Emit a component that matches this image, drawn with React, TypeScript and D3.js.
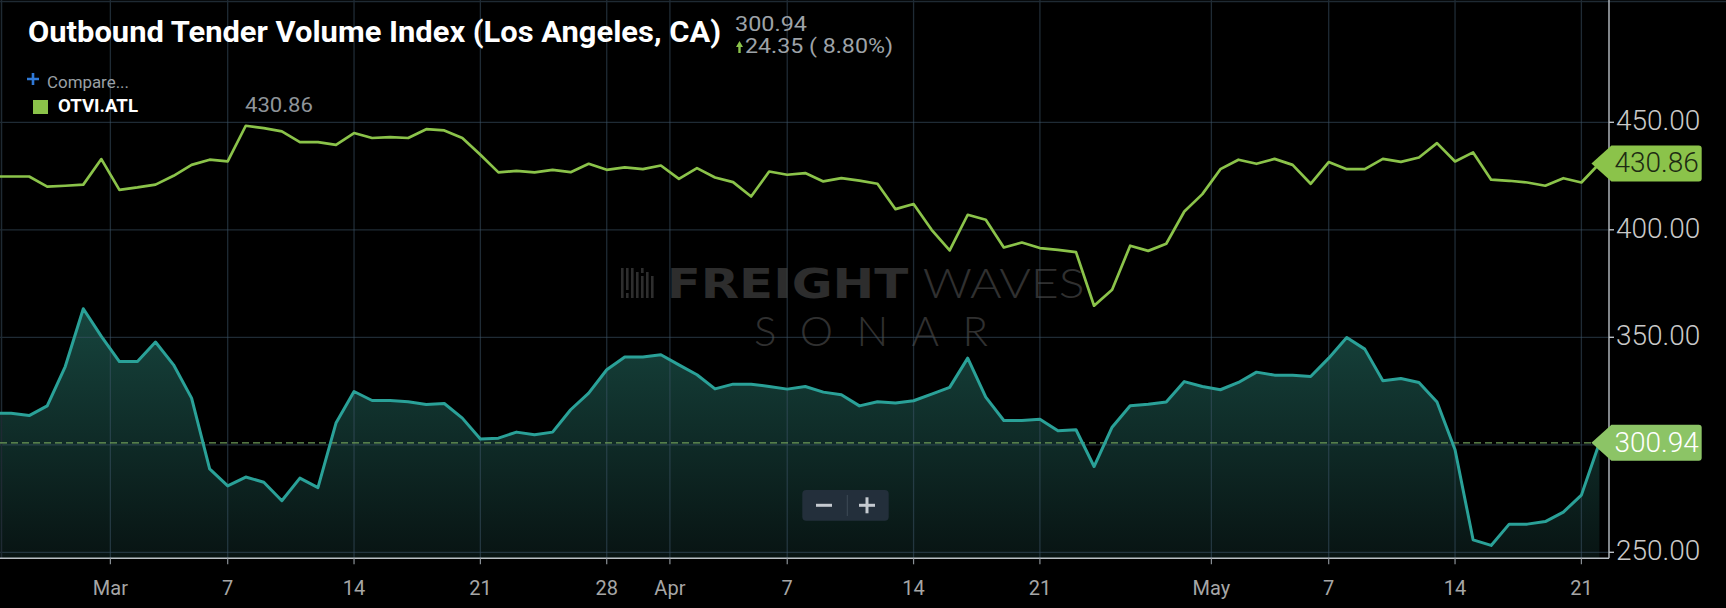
import React from "react";
import * as d3 from "d3";

// ---- data ----
const startDay = Date.UTC(2019, 1, 22); // Feb 22
const otviAtl = [
  424.8, 424.8, 424.8, 420.1, 420.5, 421.0, 432.9, 418.6, 419.7, 421.0,
  425.1, 430.2, 432.6, 431.8, 448.4, 447.3, 445.8, 440.8, 440.8, 439.5,
  445.0, 442.7, 443.1, 442.7, 446.8, 446.2, 442.7, 434.9, 426.7, 427.4,
  426.7, 427.9, 426.8, 430.7, 427.9, 429.0, 428.2, 429.9, 423.7, 428.7,
  424.3, 422.2, 415.5, 427.1, 425.6, 426.4, 422.5, 424.0, 422.9, 421.4,
  409.6, 412.0, 400.0, 390.4, 407.0, 404.7, 391.8, 394.1, 391.5, 390.7,
  389.6, 364.7, 372.1, 392.6, 390.2, 393.5, 408.5, 416.6, 428.2, 432.6,
  430.7, 433.0, 430.2, 421.4, 431.5, 428.2, 428.2, 433.0, 431.6, 433.6,
  440.3, 431.8, 436.0, 423.3, 422.8, 422.0, 420.5, 424.0, 422.0, 430.86,
];
const otviLax = [
  314.7, 314.7, 313.6, 318.1, 336.4, 363.3, 350.4, 338.7, 338.7, 347.8,
  337.2, 321.7, 288.8, 280.9, 285.0, 282.6, 274.0, 284.5, 280.1, 310.1,
  324.8, 320.6, 320.6, 320.0, 318.7, 319.2, 312.4, 302.7, 303.1, 305.9,
  304.7, 305.9, 316.3, 324.0, 334.9, 340.8, 340.8, 341.9, 337.2, 332.6,
  326.0, 328.2, 328.2, 327.1, 325.9, 327.1, 324.5, 323.3, 318.1, 320.0,
  319.4, 320.5, 323.6, 326.7, 340.3, 322.2, 311.3, 311.3, 311.9, 306.5,
  307.0, 289.9, 308.2, 318.2, 318.9, 319.9, 329.4, 327.1, 325.6, 329.0,
  333.8, 332.4, 332.3, 331.8, 340.3, 349.9, 344.5, 329.8, 330.8, 329.0,
  319.9, 297.7, 255.8, 253.2, 263.1, 263.1, 264.3, 268.7, 276.59, 300.94,
];
const xTickLabels = ["Mar", "7", "14", "21", "28", "Apr", "7", "14", "21", "May", "7", "14", "21"];
const xTickDates = [
  "2019-02-28T12:00Z", "2019-03-07T00:00Z", "2019-03-14T00:00Z", "2019-03-21T00:00Z",
  "2019-03-28T00:00Z", "2019-03-31T12:00Z", "2019-04-07T00:00Z", "2019-04-14T00:00Z",
  "2019-04-21T00:00Z", "2019-04-30T12:00Z", "2019-05-07T00:00Z", "2019-05-14T00:00Z",
  "2019-05-21T00:00Z",
];
const yTicks = [250, 300, 350, 400, 450];
const title = "Outbound Tender Volume Index (Los Angeles, CA)";
const lastLax = 300.94;
const changeText = "24.35 ( 8.80%)";
const compareSymbol = "OTVI.ATL";
const lastAtl = 430.86;

export default function App() {
  const W = 1726;
  const H = 608;
  const plotR = 1609;
  const plotB = 558.3;
  const dates = otviLax.map((_, i) => new Date(startDay + i * 86400000));
  const x = d3
    .scaleUtc()
    .domain([new Date(Date.UTC(2019, 1, 22, 9, 14)), new Date(Date.UTC(2019, 4, 22, 12, 43))])
    .range([0, plotR]);
  const y = d3.scaleLinear().domain([250, 450]).range([552.3, 122.3]);

  const line = d3
    .line<number>()
    .x((_, i) => x(dates[i]))
    .y((d) => y(d));
  const area = d3
    .area<number>()
    .x((_, i) => x(dates[i]))
    .y0(plotB)
    .y1((d) => y(d));

  const lastX = x(dates[dates.length - 1]);
  const yAtl = y(lastAtl);
  const yLax = y(lastLax);
  const tipX = lastX - 8;
  const boxL = tipX + 20;
  const boxR = 1701.7;
  const boxH = 36;
  const tagPath = (cy: number) =>
    `M${tipX},${cy} L${boxL},${cy - boxH / 2} L${boxR - 3},${cy - boxH / 2} Q${boxR},${cy - boxH / 2} ${boxR},${cy - boxH / 2 + 3} L${boxR},${cy + boxH / 2 - 3} Q${boxR},${cy + boxH / 2} ${boxR - 3},${cy + boxH / 2} L${boxL},${cy + boxH / 2} Z`;

  const gridColor = "rgba(62,86,106,0.5)";
  const logoBars = [
    [0, 0, 30], [5, 0, 22], [5, 25, 30], [10, 0, 30], [15, 4, 30], [20, 0, 5], [20, 8, 30], [25, 4, 30], [30, 8, 30],
  ];

  return (
    <svg
      width={W}
      height={H}
      style={{ position: "fixed", left: 0, top: 0, background: "#000" }}
      fontFamily="Roboto, 'Noto Sans', sans-serif"
    >
      <defs>
        <clipPath id="plotClip">
          <rect x={0} y={0} width={plotR} height={plotB} />
        </clipPath>
        <linearGradient id="tealFill" gradientUnits="userSpaceOnUse" x1={0} y1={300} x2={0} y2={plotB}>
          <stop offset="0" stopColor="#17463f" />
          <stop offset="1" stopColor="#081413" />
        </linearGradient>
      </defs>
      <rect x={0} y={0} width={W} height={H} fill="#000" />

      {/* watermark */}
      <g>
        {logoBars.map((b, i) => (
          <rect key={i} x={621 + b[0]} y={268 + b[1]} width={2.6} height={b[2] - b[1]} fill="#2e2e2e" />
        ))}
        <text x={666.7} y={297.7} fontFamily="'DejaVu Sans', sans-serif" fontWeight={700} fontSize={40}
          textLength={241.6} lengthAdjust="spacingAndGlyphs" fill="#2d2d2d">FREIGHT</text>
        <text x={922.7} y={297.7} fontFamily="Lato, sans-serif" fontWeight={300} fontSize={41}
          textLength={162} lengthAdjust="spacingAndGlyphs" fill="#303030">WAVES</text>
        <text x={754} y={345.7} fontFamily="Lato, sans-serif" fontWeight={300} fontSize={42}
          textLength={234} lengthAdjust="spacing" fill="#303030">SONAR</text>
      </g>

      <g clipPath="url(#plotClip)">
        <path d={area(otviLax) || ""} fill="url(#tealFill)" />
      </g>

      {/* grid */}
      {yTicks.map((t) => (
        <line key={t} x1={0} x2={plotR} y1={y(t)} y2={y(t)} stroke={gridColor} strokeWidth={1.3} />
      ))}
      {xTickDates.map((d, i) => (
        <line key={i} x1={x(new Date(d))} x2={x(new Date(d))} y1={0} y2={plotB} stroke={gridColor} strokeWidth={1.3} />
      ))}
      <line x1={0} x2={W} y1={1.5} y2={1.5} stroke="#1f2a33" strokeWidth={1.5} />
      <line x1={1.5} x2={1.5} y1={0} y2={plotB} stroke="#1f2a33" strokeWidth={1.5} />

      {/* dashed last value line */}
      <line x1={0} x2={tipX} y1={yLax} y2={yLax} stroke="#6f9c58" strokeWidth={1.2} strokeDasharray="7,4" />

      <g clipPath="url(#plotClip)">
        <path d={line(otviLax) || ""} fill="none" stroke="#2aa198" strokeWidth={3} strokeLinejoin="round" />
        <path d={line(otviAtl) || ""} fill="none" stroke="#8bc34a" strokeWidth={2.7} strokeLinejoin="round" />
      </g>

      {/* axes */}
      <line x1={0} x2={plotR} y1={plotB} y2={plotB} stroke="#b9bfc5" strokeWidth={1.4} />
      <line x1={plotR} x2={plotR} y1={0} y2={plotB} stroke="#b9bfc5" strokeWidth={1.4} />
      {xTickDates.map((d, i) => (
        <g key={i} transform={`translate(${x(new Date(d))},0)`}>
          <line y1={plotB} y2={plotB + 6} stroke="#8a9096" strokeWidth={1.2} />
          <text y={595} textAnchor="middle" fontSize={20} fill="#a6a6a6">{xTickLabels[i]}</text>
        </g>
      ))}
      {yTicks.map((t) => (
        <g key={t} transform={`translate(${plotR},${y(t)})`}>
          <line x1={0} x2={5} stroke="#b9bfc5" strokeWidth={1.4} />
          <text x={7} y={8} fontSize={28} fontWeight={300} fill="#c9c9c9">{t.toFixed(2)}</text>
        </g>
      ))}

      {/* last value tags */}
      <path d={tagPath(yAtl)} fill="#8bc34a" />
      <text x={(boxL + boxR) / 2} y={yAtl + 9} textAnchor="middle" fontSize={28} fontWeight={300} fill="#1d2a12">
        {lastAtl.toFixed(2)}
      </text>
      <path d={tagPath(yLax)} fill="#8cc466" />
      <text x={(boxL + boxR) / 2} y={yLax + 9} textAnchor="middle" fontSize={28} fontWeight={300} fill="#ffffff">
        {lastLax.toFixed(2)}
      </text>

      {/* zoom buttons */}
      <g>
        <rect x={802.3} y={490} width={86.4} height={30.7} rx={4} fill="#232f3b" />
        <line x1={816} x2={832} y1={505.3} y2={505.3} stroke="#c5cad0" strokeWidth={3} />
        <line x1={847.3} x2={847.3} y1={495} y2={516} stroke="#3d4a57" strokeWidth={1} />
        <line x1={859} x2={875} y1={505.3} y2={505.3} stroke="#c5cad0" strokeWidth={3} />
        <line x1={867} x2={867} y1={497.3} y2={513.3} stroke="#c5cad0" strokeWidth={3} />
      </g>

      {/* header */}
      <text x={28} y={42} fontSize={30} fontWeight={700} fill="#ffffff" textLength={693} lengthAdjust="spacingAndGlyphs">
        {title}
      </text>
      <text x={735} y={31} fontSize={21} fill="#9ea3a8" textLength={72} lengthAdjust="spacingAndGlyphs">
        {lastLax.toFixed(2)}
      </text>
      <path d="M736,47 L743,47 L739.5,41 Z M738.3,47 L740.7,47 L740.7,53 L738.3,53 Z" fill="#8bc34a" />
      <text x={745} y={53} fontSize={20} fill="#9ea3a8" textLength={148} lengthAdjust="spacingAndGlyphs">
        {changeText}
      </text>

      {/* legend */}
      <path d="M27,79 L39,79 M33,73 L33,85" stroke="#2f78d6" strokeWidth={2.6} />
      <text x={47} y={88} fontSize={16} fill="#9aa0a6" textLength={82} lengthAdjust="spacingAndGlyphs">Compare...</text>
      <rect x={33} y={100} width={15} height={14} fill="#8bc34a" />
      <text x={58} y={112} fontSize={17.5} fontWeight={700} fill="#ffffff" textLength={80} lengthAdjust="spacingAndGlyphs">
        {compareSymbol}
      </text>
      <text x={245} y={112} fontSize={21} fill="#8f9499" textLength={68} lengthAdjust="spacingAndGlyphs">
        {lastAtl.toFixed(2)}
      </text>
    </svg>
  );
}
